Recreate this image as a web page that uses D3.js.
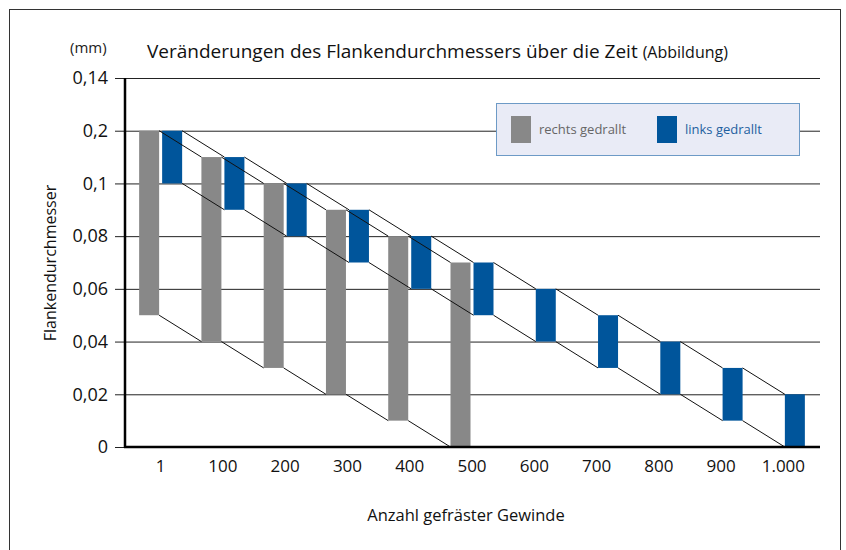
<!DOCTYPE html>
<html>
<head>
<meta charset="utf-8">
<script src="https://cdn.jsdelivr.net/npm/d3@7"></script>
<style>
  body { margin: 0; background: #fff; }
  text { font-family: "Open Sans", "Noto Sans", sans-serif; }
</style>
</head>
<body>
<div id="svg-area"></div>
<script>
// data (mm)
var categories = ["1","100","200","300","400","500","600","700","800","900","1.000"];
var rechtsLow  = [0.05,0.04,0.03,0.02,0.01,0];          // grey bars, only up to 500
var rechtsHigh = [0.12,0.11,0.10,0.09,0.08,0.07];
var linksLow   = [0.10,0.09,0.08,0.07,0.06,0.05,0.04,0.03,0.02,0.01,0];
var linksHigh  = [0.12,0.11,0.10,0.09,0.08,0.07,0.06,0.05,0.04,0.03,0.02];
var yTicks      = [0,0.02,0.04,0.06,0.08,0.10,0.12,0.14];
var yTickLabels = ["0","0,02","0,04","0,06","0,08","0,1","0,2","0,14"]; // as printed

const grey = "#888888";
const blue = "#00559b";
const plot_left = 125, plot_right = 820, plot_top = 78, plot_bottom = 447;
const bar_w = 20, gap = 1.5;

var svg = d3.select("#svg-area")
  .append("svg")
  .attr("width", 846)
  .attr("height", 550);

// outer frame
svg.append("rect")
  .attr("x", 9.5).attr("y", 9.5)
  .attr("width", 831).attr("height", 600)
  .style("fill", "none")
  .style("stroke", "#333")
  .style("stroke-width", 1);

var x = d3.scaleBand().domain(categories).range([129.5, 814.5]);
var y = d3.scaleLinear().domain([0, 0.14]).range([plot_bottom, plot_top]);

// gridlines + tick labels: axis sits on the right end, ticks run left to x=115
var yAxis = svg.append("g")
  .attr("transform", "translate(" + plot_right + ",0)")
  .call(d3.axisLeft(y)
    .tickValues(yTicks)
    .tickSize(plot_right - 115)
    .tickPadding(7)
    .tickFormat(function(d, i) { return yTickLabels[i]; }));
yAxis.select(".domain").remove();
yAxis.selectAll(".tick line").style("stroke", "#222").style("stroke-width", 1);
yAxis.selectAll(".tick text").style("font-size", "18px").style("fill", "#111");

// x labels
var xAxis = svg.append("g")
  .attr("transform", "translate(0," + plot_bottom + ")")
  .call(d3.axisBottom(x).tickSize(0).tickPadding(13));
xAxis.select(".domain").remove();
xAxis.selectAll(".tick text").style("font-size", "17px").style("fill", "#111");

// legend box (covers the gridline behind it)
svg.append("rect")
  .attr("x", 496.5).attr("y", 103.5)
  .attr("width", 303).attr("height", 52)
  .style("fill", "#e9ebf6")
  .style("stroke", "#6d9ac6")
  .style("stroke-width", 1);
svg.append("rect").attr("x", 511).attr("y", 116).attr("width", 20).attr("height", 27).style("fill", grey);
svg.append("text").attr("x", 539).attr("y", 134).text("rechts gedrallt")
  .style("font-size", "13px").style("fill", "#666");
svg.append("rect").attr("x", 657).attr("y", 116).attr("width", 20).attr("height", 27).style("fill", blue);
svg.append("text").attr("x", 685).attr("y", 134).text("links gedrallt")
  .style("font-size", "13px").style("fill", "#1e5fa0");

// bars
function drawSeries(low, high, color, offset) {
  var cats = categories.slice(0, low.length);
  svg.selectAll(null)
    .data(cats)
    .enter()
    .append("rect")
    .attr("x", function(d) { return x(d) + x.bandwidth() / 2 + offset; })
    .attr("y", function(d, i) { return y(high[i]); })
    .attr("width", bar_w)
    .attr("height", function(d, i) { return y(low[i]) - y(high[i]); })
    .style("fill", color);
}
drawSeries(rechtsLow, rechtsHigh, grey, -gap - bar_w);
drawSeries(linksLow, linksHigh, blue, gap);

// connecting lines: right corners of one bar to left corners of the next
function drawLinks(low, high, offset) {
  for (var i = 0; i < low.length - 1; i++) {
    var x1 = x(categories[i]) + x.bandwidth() / 2 + offset + bar_w;
    var x2 = x(categories[i + 1]) + x.bandwidth() / 2 + offset;
    [high, low].forEach(function(v) {
      svg.append("line")
        .attr("x1", x1).attr("y1", y(v[i]))
        .attr("x2", x2).attr("y2", y(v[i + 1]))
        .style("stroke", "#111")
        .style("stroke-width", 1);
    });
  }
}
drawLinks(rechtsLow, rechtsHigh, -gap - bar_w);
drawLinks(linksLow, linksHigh, gap);

// thick axis lines
svg.append("line")
  .attr("x1", plot_left).attr("x2", plot_left)
  .attr("y1", plot_top).attr("y2", plot_bottom + 1)
  .style("stroke", "#000").style("stroke-width", 2.5);
svg.append("line")
  .attr("x1", plot_left - 1).attr("x2", plot_right)
  .attr("y1", plot_bottom).attr("y2", plot_bottom)
  .style("stroke", "#000").style("stroke-width", 2.5);

// titles
svg.append("text")
  .attr("x", 70).attr("y", 53)
  .text("(mm)")
  .style("font-size", "15px").style("fill", "#222");

var title = svg.append("text")
  .attr("x", 147).attr("y", 58)
  .style("font-size", "19px").style("fill", "#111");
title.append("tspan").text("Veränderungen des Flankendurchmessers über die Zeit ");
title.append("tspan").text("(Abbildung)").style("font-size", "16px");

svg.append("text")
  .attr("x", 466).attr("y", 521)
  .attr("text-anchor", "middle")
  .text("Anzahl gefräster Gewinde")
  .style("font-size", "16.5px").style("fill", "#111");

svg.append("text")
  .attr("transform", "translate(56,263) rotate(-90)")
  .attr("text-anchor", "middle")
  .text("Flankendurchmesser")
  .style("font-size", "16px").style("fill", "#111");
</script>
</body>
</html>
